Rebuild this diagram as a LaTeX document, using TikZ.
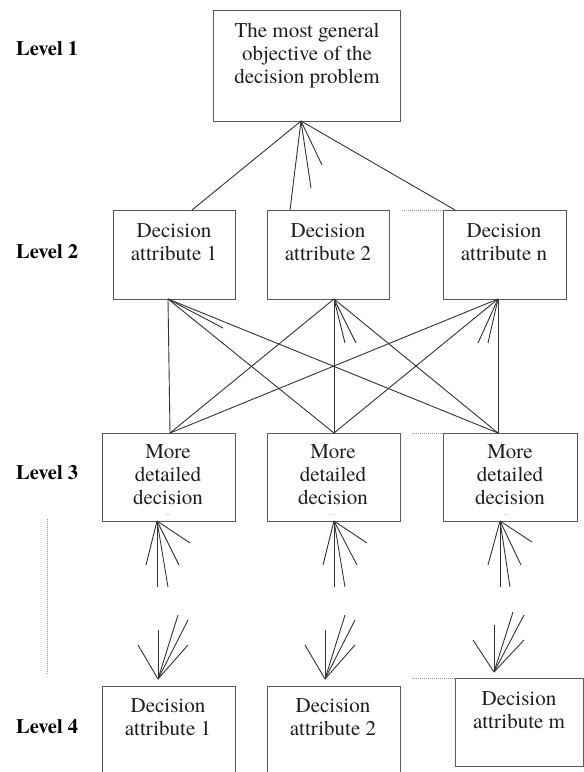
\documentclass[tikz,border=0pt]{standalone}
\usepackage{fontspec}
\IfFontExistsTF{texgyretermes-regular.otf}
  {\newfontfamily\tnr{texgyretermes}[Extension=.otf, UprightFont=*-regular, BoldFont=*-bold]}
  {\newfontfamily\tnr{Liberation Serif}}
\begin{document}
\begin{tikzpicture}[x=1pt,y=-1pt,
  box/.style={draw=black!65, line width=1.2pt, inner sep=0pt, anchor=north west},
  txt/.style={inner sep=0pt, anchor=north, align=center, text=black!88,
    font=\tnr\fontsize{21}{23}\selectfont},
  lvl/.style={inner sep=0pt, anchor=base west, font=\tnr\fontsize{20.5}{23}\selectfont\bfseries},
  ell/.style={inner sep=0pt, font=\tnr\fontsize{8}{8}\selectfont, text=black!60},
  link/.style={draw=black!80, line width=0.9pt},
  dots/.style={draw=black!40, line width=0.8pt, dash pattern=on 1pt off 1pt}]
\clip (0,0) rectangle (584,772);
\fill[white] (0,0) rectangle (584,772);

% level labels
\node[lvl] (lv1) at (16,55) {Level 1};
\node[lvl] (lv2) at (16,258) {Level 2};
\node[lvl] (lv3) at (16,479) {Level 3};
\node[lvl] (lv4) at (16,733) {Level 4};

% boxes
\node[box, minimum width=187pt, minimum height=111pt] (top) at (213,10) {};
\node[box, minimum width=122pt, minimum height=89pt] (a1) at (113,210) {};
\node[box, minimum width=122pt, minimum height=89pt] (a2) at (267,210) {};
\node[box, minimum width=123pt, minimum height=89pt] (a3) at (443,210) {};
\node[box, minimum width=133pt, minimum height=88pt] (m1) at (102,433) {};
\node[box, minimum width=133pt, minimum height=88pt] (m2) at (267,433) {};
\node[box, minimum width=134pt, minimum height=88pt] (m3) at (443,433) {};
\node[box, minimum width=133pt, minimum height=110pt] (d1) at (102,686) {};
\node[box, minimum width=133pt, minimum height=110pt] (d2) at (267,686) {};
\node[box, minimum width=128pt, minimum height=88pt] (d3) at (455,678) {};

% texts
\node[txt] (ttop) at (307,23) {The most general\\objective of the\\decision problem};
\node[txt] (ta1) at (174,223) {Decision\\attribute 1};
\node[txt] (ta2) at (328,223) {Decision\\attribute 2};
\node[txt] (ta3) at (504,223) {Decision\\attribute n};
\node[txt] (tm1) at (168,444) {More\\detailed\\decision};
\node[txt] (tm2) at (333,444) {More\\detailed\\decision};
\node[txt] (tm3) at (510,444) {More\\detailed\\decision};
\node[ell] (e1) at (168,515) {..};
\node[ell] (e2) at (333,515) {..};
\node[ell] (e3) at (506,515) {..};
\node[txt] (td1) at (168,698) {Decision\\attribute 1};
\node[txt] (td2) at (333,698) {Decision\\attribute 2};
\node[txt] (td3) at (519,691) {Decision\\attribute m};

% connection points
\coordinate (t0) at (301,121);
\coordinate (a1t) at (192,210);
\coordinate (a2t) at (290,210);
\coordinate (a3t) at (455,210);
\coordinate (q1) at (168,299);
\coordinate (q2) at (334,299);
\coordinate (q3) at (498,299);
\coordinate (r1) at (170,433);
\coordinate (r2) at (334,433);
\coordinate (r3) at (498,433);
\coordinate (s1) at (157,521);
\coordinate (s2) at (334,521);
\coordinate (s3) at (500,521);
\coordinate (u1) at (158,679);
\coordinate (u2) at (325,679);
\coordinate (u3) at (494,672);

% level 1 -> level 2
\draw[link] (t0) -- (a1t);
\draw[link] (t0) -- (a2t);
\draw[link] (t0) -- (a3t);
\draw[link] (t0) -- (311,188);
\draw[link] (t0) -- (322,165);

% level 2 -> level 3
\foreach \q in {q1,q2,q3}{
  \foreach \r in {r1,r2,r3}{
    \draw[link] (\q) -- (\r);
  }
}
\draw[link] (q1) -- (223,328);
\draw[link] (q2) -- (345,343);
\draw[link] (q2) -- (356,343);
\draw[link] (q3) -- (478,343);
\draw[link] (q3) -- (488,343);

% level 3 fans
\foreach \x/\y in {146/565,157/587,168/587,179/565,190/543}{\draw[link] (s1) -- (\x,\y);}
\foreach \x/\y in {323/565,334/587,345/587,357/565,367/543}{\draw[link] (s2) -- (\x,\y);}
\foreach \x/\y in {488/565,500/587,510/587,521/565,532/542}{\draw[link] (s3) -- (\x,\y);}

% level 4 fans
\foreach \x/\y in {138/645,158/630,178/615,188/620,188/645}{\draw[link] (u1) -- (\x,\y);}
\foreach \x/\y in {305/645,325/630,345/615,355/620,355/645}{\draw[link] (u2) -- (\x,\y);}
\foreach \x/\y in {473/640,494/625,513/612,524/615,524/640}{\draw[link] (u3) -- (\x,\y);}

% dotted guides
\draw[dots] (402,210) -- (a3.north west);
\draw[dots] (412,433) -- (m3.north west);
\draw[dots] (412,678) -- (d3.north west);
\draw[dots] (47,519) -- (47,674);
\end{tikzpicture}
\end{document}
